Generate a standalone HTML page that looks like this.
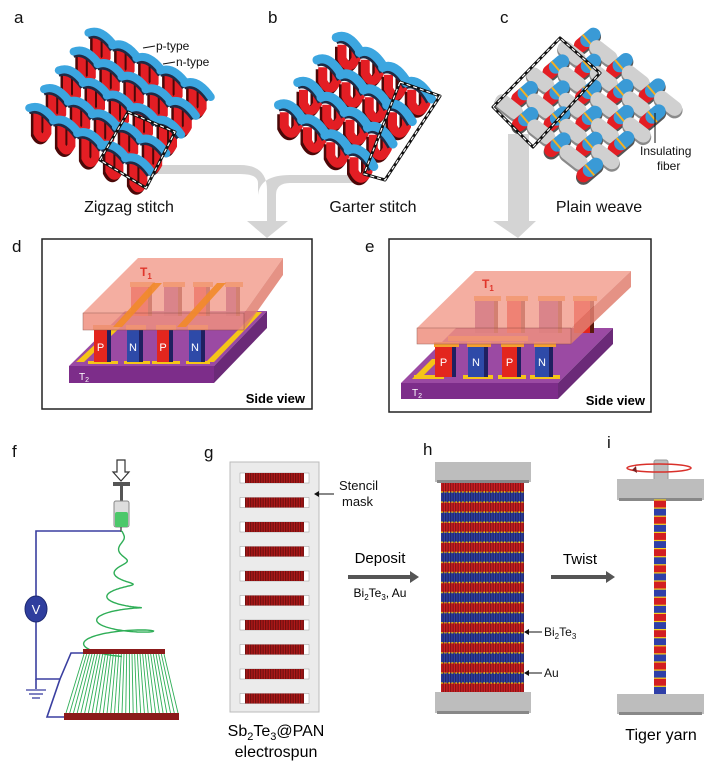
<!DOCTYPE html>
<html><head><meta charset="utf-8"><style>
html,body{margin:0;padding:0;background:#fff}
svg{display:block;font-family:"Liberation Sans",sans-serif}
</style></head><body>
<svg id="s" width="715" height="761" viewBox="0 0 715 761" xmlns="http://www.w3.org/2000/svg">
<defs>
<pattern id="vl" width="2.5" height="4" patternUnits="userSpaceOnUse"><rect width="1.3" height="4" fill="#000" opacity="0.35"/></pattern>
</defs>
<g font-size="17" fill="#111">
<text x="14" y="23">a</text><text x="268" y="23">b</text><text x="500" y="23">c</text>
<text x="12" y="252">d</text><text x="365" y="252">e</text>
<text x="12" y="457">f</text><text x="204" y="458">g</text><text x="423" y="455">h</text><text x="607" y="448">i</text>
</g>
<!-- gray arrows -->
<g fill="#d4d4d4">
<path d="M157 165 L240 165 Q267 165 267 190 L267 221 L247 221 L267 238 L288 221 L276 221 L276 195 Q276 183 290 183 L355 183 L355 175 L290 175 Q260 175 258 195 L258 183 Q258 174 240 174 L157 174Z"/>
<path d="M508 134 L529 134 L529 221 L536 221 L518 238 L493 221 L508 221Z"/>
</g>
<g id="knits"></g>
<g font-size="12" fill="#111">
<text x="156" y="50">p-type</text><text x="176" y="66">n-type</text>
<line x1="155" y1="46" x2="143" y2="48" stroke="#111"/><line x1="175" y1="62" x2="163" y2="64" stroke="#111"/>
<text x="640" y="155">Insulating</text><text x="657" y="170">fiber</text>
<line x1="655" y1="143" x2="655" y2="113" stroke="#111"/>
</g>
<g font-size="16" fill="#111" text-anchor="middle">
<text x="129" y="212">Zigzag stitch</text><text x="373" y="212">Garter stitch</text><text x="599" y="212">Plain weave</text>
</g>
<!-- panel d -->
<rect x="42" y="239" width="270" height="170" fill="#fff" stroke="#222" stroke-width="1.5"/>
<polygon points="69,366 214,366 267,311 125,311" fill="#9b4aa3"/>
<polygon points="214,366 267,311 267,328 214,383" fill="#6b2a78"/>
<rect x="69" y="366" width="145" height="17" fill="#7d2d8a"/>
<polygon points="76,362 84,362 136,312 130,312" fill="#f5c518"/>
<polygon points="206,362 214,362 262,312 256,312" fill="#f5c518"/>
<g fill="#f5c518"><rect x="88" y="361" width="30" height="3"/><rect x="124" y="361" width="26" height="3"/><rect x="152" y="361" width="28" height="3"/><rect x="186" y="361" width="24" height="3"/></g>
<text x="79" y="380" font-size="10" fill="#fff">T<tspan font-size="7" dy="2">2</tspan></text>
<g id="dpil"></g>
<polygon points="83,313 244,313 283,258 138,258" fill="#f19a8a" opacity="0.8"/>
<polygon points="244,313 283,258 283,275 244,330" fill="#e07f70" opacity="0.85"/>
<rect x="83" y="313" width="161" height="17" fill="#ef9080" opacity="0.85" stroke="#8a4a40" stroke-width="0.5"/>
<g fill="#f28a2a" opacity="0.9"><polygon points="153,283 162,283 122,327 113,327"/><polygon points="217,283 226,283 186,327 177,327"/></g>
<text x="140" y="276" font-size="12" font-weight="bold" fill="#e0352a">T<tspan font-size="8" dy="3">1</tspan></text>
<text x="305" y="403" font-size="13" font-weight="bold" text-anchor="end">Side view</text>
<!-- panel e -->
<rect x="389" y="239" width="262" height="173" fill="#fff" stroke="#222" stroke-width="1.5"/>
<polygon points="401,383 558,383 613,328 456,328" fill="#9b4aa3"/>
<polygon points="558,383 613,328 613,344 558,399" fill="#6b2a78"/>
<rect x="401" y="383" width="157" height="16" fill="#7d2d8a"/>
<g fill="#f5c518"><rect x="414" y="375" width="30" height="4"/><rect x="463" y="375" width="30" height="4"/><rect x="498" y="375" width="28" height="4"/><rect x="530" y="375" width="30" height="4"/><polygon points="412,379 420,379 440,359 432,359"/></g>
<text x="412" y="396" font-size="10" fill="#fff">T<tspan font-size="7" dy="2">2</tspan></text>
<g id="epil"></g>
<polygon points="417,328 571,328 631,271 475,271" fill="#f19a8a" opacity="0.8"/>
<polygon points="571,328 631,271 631,287 571,344" fill="#e07f70" opacity="0.85"/>
<rect x="417" y="328" width="154" height="16" fill="#ef9080" opacity="0.85" stroke="#8a4a40" stroke-width="0.5"/>
<text x="482" y="288" font-size="12" font-weight="bold" fill="#e0352a">T<tspan font-size="8" dy="3">1</tspan></text>
<text x="645" y="405" font-size="13" font-weight="bold" text-anchor="end">Side view</text>
<!-- panel f -->
<g stroke="#3a3fa0" stroke-width="1.6" fill="none">
<path d="M121 531 L36 531 L36 596"/><path d="M36 622 L36 679 L60 679 L71 653 L83 653"/><path d="M60 679 L47 717 L67 717"/><path d="M36 679 L36 689"/>
</g>
<ellipse cx="36" cy="609" rx="11" ry="13" fill="#2f3e9e" stroke="#1d2870"/>
<text x="36" y="614" font-size="13" fill="#fff" text-anchor="middle">V</text>
<g stroke="#3a3fa0" stroke-width="1.3"><line x1="26" y1="690" x2="46" y2="690"/><line x1="29" y1="694" x2="43" y2="694"/><line x1="32" y1="698" x2="40" y2="698"/></g>
<path d="M117 460 L125 460 L125 472 L129 472 L121 481 L113 472 L117 472Z" fill="#fff" stroke="#333" stroke-width="1.2"/>
<rect x="113" y="482" width="17" height="4" fill="#555"/>
<rect x="120" y="486" width="3" height="16" fill="#555"/>
<rect x="114" y="501" width="15" height="26" rx="2" fill="#ddd" stroke="#888"/>
<rect x="115" y="512" width="13" height="15" rx="2" fill="#4cc86a"/>
<line x1="121" y1="527" x2="121" y2="532" stroke="#555" stroke-width="1.5"/>
<g id="fan"></g>
<path id="spiral" fill="none" stroke="#2fae57" stroke-width="1.4"/>
<rect x="83" y="649" width="82" height="5" fill="#8b1a1a"/>
<rect x="64" y="713" width="115" height="7" fill="#8b1a1a"/>
<!-- panel g -->
<rect x="230" y="462" width="89" height="250" fill="#ebebeb" stroke="#bbb"/>
<g id="sten"></g>
<g font-size="13" fill="#111">
<text x="339" y="490">Stencil</text><text x="342" y="506">mask</text>
<line x1="334" y1="494" x2="317" y2="494" stroke="#111"/><path d="M314 494 L319 491 L319 497Z"/>
</g>
<text x="276" y="736" font-size="16" text-anchor="middle">Sb<tspan font-size="11" dy="4">2</tspan><tspan dy="-4">Te</tspan><tspan font-size="11" dy="4">3</tspan><tspan dy="-4">@PAN</tspan></text>
<text x="276" y="757" font-size="16" text-anchor="middle">electrospun</text>
<text x="380" y="563" font-size="15" text-anchor="middle">Deposit</text>
<path d="M348 575 L410 575 L410 571 L419 577 L410 583 L410 579 L348 579Z" fill="#555"/>
<text x="380" y="597" font-size="12" text-anchor="middle">Bi<tspan font-size="8" dy="3">2</tspan><tspan dy="-3">Te</tspan><tspan font-size="8" dy="3">3</tspan><tspan dy="-3">, Au</tspan></text>
<!-- panel h -->
<g id="hstr"></g>
<rect x="441" y="482" width="83" height="211" fill="url(#vl)"/>
<rect x="435" y="462" width="96" height="20" fill="#bdbdbd"/><rect x="437" y="480" width="92" height="3" fill="#888"/>
<rect x="435" y="692" width="96" height="21" fill="#bdbdbd"/><rect x="437" y="711" width="92" height="3" fill="#888"/>
<g font-size="12" fill="#111">
<line x1="527" y1="632" x2="542" y2="632" stroke="#111"/><path d="M524 632 L529 629 L529 635Z"/>
<text x="544" y="636">Bi<tspan font-size="8" dy="3">2</tspan><tspan dy="-3">Te</tspan><tspan font-size="8" dy="3">3</tspan></text>
<line x1="527" y1="673" x2="542" y2="673" stroke="#111"/><path d="M524 673 L529 670 L529 676Z"/>
<text x="544" y="677">Au</text>
</g>
<text x="580" y="564" font-size="15" text-anchor="middle">Twist</text>
<path d="M551 575 L606 575 L606 571 L615 577 L606 583 L606 579 L551 579Z" fill="#555"/>
<!-- panel i -->
<rect x="654" y="460" width="14" height="22" rx="2" fill="#bdbdbd" stroke="#999"/>
<ellipse cx="659" cy="468" rx="32" ry="4" fill="none" stroke="#d9302a" stroke-width="1.5"/>
<path d="M632 470 L636 466 L637 473Z" fill="#7a2020"/>
<rect x="617" y="479" width="87" height="21" fill="#bdbdbd"/><rect x="619" y="498" width="83" height="3" fill="#888"/>
<g id="yarn"></g>
<rect x="617" y="694" width="87" height="20" fill="#bdbdbd"/><rect x="619" y="712" width="83" height="3" fill="#888"/>
<text x="661" y="740" font-size="16" text-anchor="middle">Tiger yarn</text>
</svg>
<script>
var NS="http://www.w3.org/2000/svg";
function el(p,t,a){var e=document.createElementNS(NS,t);for(var k in a)e.setAttribute(k,a[k]);document.getElementById(p).appendChild(e);return e;}
function knit(L,T,B,nu,nv,o){
 var u=[(T[0]-L[0])/nu,(T[1]-L[1])/nu],v=[(B[0]-L[0])/nv,(B[1]-L[1])/nv];
 for(var i=nu-1;i>=0;i--){
  for(var j=0;j<nv;j++){
   var x=L[0]+(i+.5)*u[0]+(j+.5)*v[0],y=L[1]+(i+.5)*u[1]+(j+.5)*v[1];
   var w=o.w,h=o.h;
   var d="M"+(x-w)+" "+(y-o.top)+" L"+(x-w)+" "+(y+h)+" Q"+x+" "+(y+h+w*2)+" "+(x+w)+" "+(y+h)+" L"+(x+w)+" "+(y-o.top);
   el("knits","path",{d:d,fill:"none",stroke:"#4a0808","stroke-width":o.sw+1,transform:"translate(-2,2)"});
   el("knits","path",{d:d,fill:"none",stroke:"#e31e24","stroke-width":o.sw});
  }
  for(var j=0;j<nv;j++){
   var x=L[0]+(i+.5)*u[0]+(j+.5)*v[0],y=L[1]+(i+.5)*u[1]+(j+.5)*v[1]-o.bo;
   var d="M"+(x-v[0]*.55)+" "+(y-v[1]*.55)+" Q"+x+" "+(y-o.arc)+" "+(x+v[0]*.55)+" "+(y+v[1]*.55);
   el("knits","path",{d:d,fill:"none",stroke:"#1f2a44","stroke-width":o.sw+1,transform:"translate(-1,2)"});
   el("knits","path",{d:d,fill:"none",stroke:"#3ca6e0","stroke-width":o.sw,"stroke-linecap":"round"});
  }
 }
}
knit([23,122],[97,28],[143,185],5,5,{w:5,h:14,top:8,sw:8,arc:12,bo:4});
knit([270,122],[347,32],[363,182],4,4,{w:7,h:8,top:6,sw:9,arc:14,bo:5});
(function(){
 var L=[493,107],u=[94,-80],v=[97,76],n=6;
 for(var i=n-1;i>=0;i--)for(var j=0;j<n;j++){
  var x=L[0]+(i+.5)/n*u[0]+(j+.5)/n*v[0],y=L[1]+(i+.5)/n*u[1]+(j+.5)/n*v[1];
  var dv=[v[0]/n*.4,v[1]/n*.4],du=[u[0]/n*.4,u[1]/n*.4];
  if((i+j)%2==0){
   el("knits","line",{x1:x-dv[0],y1:y-dv[1],x2:x+dv[0],y2:y+dv[1],stroke:"#8a8a8a","stroke-width":16,"stroke-linecap":"round",transform:"translate(0,2)"});
   el("knits","line",{x1:x-dv[0],y1:y-dv[1],x2:x+dv[0],y2:y+dv[1],stroke:"#d0d0d0","stroke-width":15,"stroke-linecap":"round"});
  }else{
   el("knits","line",{x1:x-du[0],y1:y-du[1],x2:x+du[0],y2:y+du[1],stroke:"#555","stroke-width":15,"stroke-linecap":"round",transform:"translate(0,2)"});
   el("knits","line",{x1:x-du[0],y1:y-du[1],x2:x,y2:y,stroke:"#e31e24","stroke-width":14,"stroke-linecap":"round"});
   el("knits","line",{x1:x,y1:y,x2:x+du[0],y2:y+du[1],stroke:"#3a9ad6","stroke-width":14,"stroke-linecap":"round"});
   el("knits","line",{x1:x-du[0]*.12,y1:y-du[1]*.12,x2:x+du[0]*.12,y2:y+du[1]*.12,stroke:"#f5b020","stroke-width":14});
  }
 }
 function dash(pts){var p=pts.join(" ");el("knits","polygon",{points:p,fill:"none",stroke:"#111","stroke-width":3,"stroke-linejoin":"round"});el("knits","polygon",{points:p,fill:"none",stroke:"#fff","stroke-width":1.2,"stroke-dasharray":"4 3"});}
 dash(["128,112","175,132","146,188","100,160"]);
 dash(["400,82","440,96","385,180","364,174"]);
 dash(["493,107","560,38","600,73","533,147"]);
})();
function pil(g,x1,x2,y1,y2,c,cd){
 el(g,"rect",{x:x1,y:y1,width:x2-x1,height:y2-y1,fill:c});
 el(g,"rect",{x:x2-4,y:y1,width:4,height:y2-y1,fill:cd});
 el(g,"rect",{x:x1-1,y:y1-5,width:x2-x1+4,height:5,fill:"#f5a030"});
}
[[131,152,"#e3261e"],[164,182,"#7d2d8a"],[194,210,"#e3261e"],[226,240,"#7d2d8a"]].forEach(function(p){pil("dpil",p[0],p[1],287,316,p[2],"#5a1a10");});
[[94,111,"#e3261e","P"],[127,143,"#2e4aa8","N"],[157,173,"#e3261e","P"],[189,205,"#2e4aa8","N"]].forEach(function(p){pil("dpil",p[0],p[1],330,362,p[2],"#202060");var t=el("dpil","text",{x:(p[0]+p[1])/2-2,y:351,"font-size":11,fill:"#fff","text-anchor":"middle"});t.textContent=p[3];});
[[475,498,"#7d2d8a"],[507,525,"#e3261e"],[539,562,"#7d2d8a"],[574,594,"#e3261e"]].forEach(function(p){pil("epil",p[0],p[1],301,333,p[2],"#5a1a10");});
[[435,456,"#e3261e","P"],[468,488,"#2e4aa8","N"],[502,521,"#e3261e","P"],[535,553,"#2e4aa8","N"]].forEach(function(p){pil("epil",p[0],p[1],347,377,p[2],"#202060");var t=el("epil","text",{x:(p[0]+p[1])/2-2,y:366,"font-size":11,fill:"#fff","text-anchor":"middle"});t.textContent=p[3];});
el("epil","rect",{x:448,y:336,width:80,height:5,fill:"#f5a030"});
for(var k=0;k<=30;k++){var xt=84+k*80/30,xb=66+k*112/30;el("fan","line",{x1:xt,y1:654,x2:xb,y2:713,stroke:"#2fae57","stroke-width":0.9});}
(function(){var d="M121 531",cx=122;var N=400;for(var s=0;s<=N;s++){var t=s/N;var y=531+t*118;var r=2+t*t*36+t*4;var a=t*5*2*Math.PI;var x=cx+r*Math.sin(a);var yy=y+r*0.18*Math.cos(a);d+=" L"+x.toFixed(1)+" "+yy.toFixed(1);}document.getElementById("spiral").setAttribute("d",d);})();
for(var k=0;k<10;k++){var y=473+k*24.5;el("sten","rect",{x:240,y:y,width:69,height:10,fill:"#fff",stroke:"#999","stroke-width":0.5});el("sten","rect",{x:245,y:y,width:59,height:10,fill:"#b01818"});el("sten","rect",{x:245,y:y,width:59,height:10,fill:"url(#vl)"});}
for(var k=0;k<21;k++){var y=482+k*10.05;el("hstr","rect",{x:441,y:y,width:83,height:10.05,fill:k%2?"#2f3fa8":"#d21e22"});el("hstr","line",{x1:441,y1:y,x2:524,y2:y,stroke:"#f5d020","stroke-width":1.5,"stroke-dasharray":"2 1.5"});}
for(var k=0;k<24;k++){var y=500+k*8.1;el("yarn","rect",{x:654,y:y,width:12,height:8.1,fill:k%2?"#2f3fa8":"#d21e22"});el("yarn","line",{x1:654,y1:y,x2:666,y2:y,stroke:"#f5d020","stroke-width":1.2});}
</script>
</body></html>
